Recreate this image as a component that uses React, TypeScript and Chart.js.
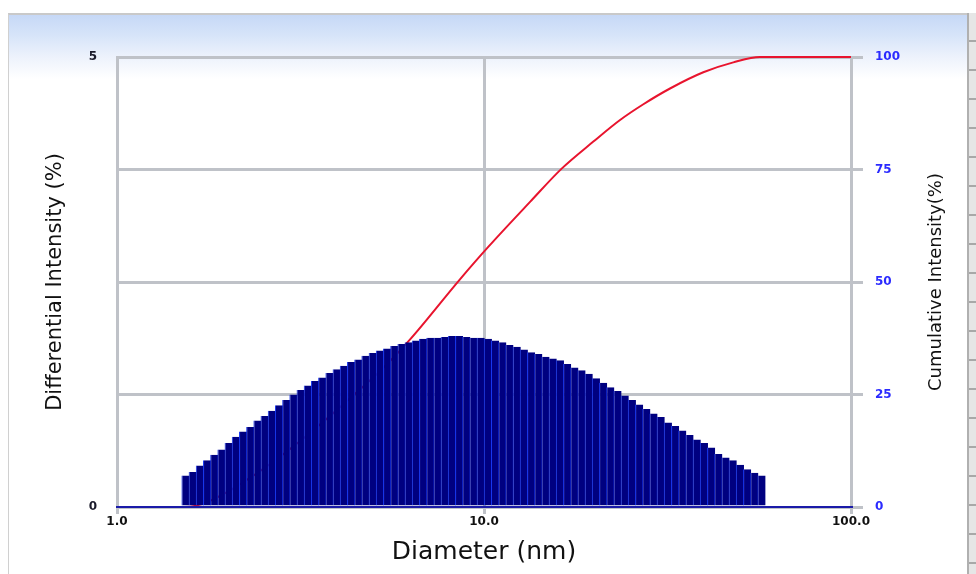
import React, { useEffect, useRef } from "react";
import { Chart, registerables } from "chart.js";

Chart.register(...registerables);

// Bin diameters (nm) of the differential distribution
const diameters = [
  1.537, 1.608, 1.682, 1.760, 1.841, 1.926, 2.015, 2.108, 2.206, 2.307,
  2.414, 2.525, 2.642, 2.764, 2.892, 3.025, 3.165, 3.311, 3.464, 3.624,
  3.793, 3.968, 4.151, 4.344, 4.545, 4.754, 4.975, 5.204, 5.445, 5.696,
  5.960, 6.234, 6.523, 6.825, 7.140, 7.470, 7.815, 8.176, 8.554, 8.950,
  9.363, 9.795, 10.247, 10.72, 11.22, 11.73, 12.28, 12.84, 13.44, 14.06,
  14.71, 15.39, 16.10, 16.85, 17.63, 18.44, 19.29, 20.18, 21.12, 22.09,
  23.11, 24.18, 25.29, 26.47, 27.69, 28.97, 30.30, 31.70, 33.17, 34.70,
  36.31, 37.99, 39.74, 41.58, 43.50, 45.51, 47.61, 49.81, 52.12, 54.53,
  57.05,
];

// Differential intensity (%)
const differential = [
  0.35, 0.39, 0.46, 0.52, 0.58, 0.64, 0.71, 0.78, 0.84, 0.89,
  0.96, 1.01, 1.07, 1.13, 1.19, 1.25, 1.30, 1.35, 1.40, 1.44,
  1.49, 1.53, 1.57, 1.61, 1.64, 1.68, 1.71, 1.74, 1.76, 1.79,
  1.81, 1.83, 1.85, 1.87, 1.88, 1.88, 1.89, 1.90, 1.90, 1.89,
  1.88, 1.88, 1.87, 1.85, 1.83, 1.80, 1.78, 1.75, 1.72, 1.70,
  1.67, 1.65, 1.63, 1.59, 1.55, 1.52, 1.48, 1.43, 1.38, 1.33,
  1.29, 1.24, 1.19, 1.14, 1.09, 1.04, 1.00, 0.94, 0.90, 0.85,
  0.80, 0.75, 0.71, 0.66, 0.59, 0.55, 0.52, 0.47, 0.42, 0.38,
  0.35,
];

// Cumulative intensity (%) curve
const cumDiameters = [1.43, 1.53, 2.07, 4.98, 6.22, 8.6, 10.27, 13.35, 16.28, 19.86, 23.48, 27.18, 32.13, 39.59, 47.79, 56.5, 100];
const cumValues = [0, 0, 4.1, 28.7, 36.8, 50.6, 57.8, 67.8, 75.2, 81.2, 86.0, 89.5, 93.0, 96.6, 98.8, 100, 100];

const xTicks = [1, 10, 100];
const leftLabels = [0, 5];
const rightTitle = "Cumulative Intensity(%)";

const SANS = "'DejaVu Sans', Verdana, sans-serif";
const TICK_FONT = { family: SANS, size: 12, weight: "bold" as const };
const GRID = "#bfc2c8";

const rightTitlePlugin = {
  id: "rightTitle",
  afterDraw(chart: any) {
    const { ctx } = chart;
    const s = chart.scales.y1;
    ctx.save();
    ctx.translate(s.right - 40, (chart.chartArea.top + chart.chartArea.bottom) / 2);
    ctx.rotate(-Math.PI / 2);
    ctx.font = `18px ${SANS}`;
    ctx.fillStyle = "#111";
    ctx.textAlign = "center";
    ctx.textBaseline = "middle";
    ctx.fillText(rightTitle, 0, 0);
    ctx.restore();
  },
};

export default function App() {
  const ref = useRef<HTMLCanvasElement | null>(null);

  useEffect(() => {
    if (!ref.current) return;
    const chart = new Chart(ref.current, {
      type: "bar",
      data: {
        datasets: [
          {
            type: "bar",
            label: "Differential",
            data: diameters.map((d, i) => ({ x: d, y: differential[i] })),
            backgroundColor: "#000080",
            borderColor: "#1838f0",
            borderWidth: { left: 1, right: 0, top: 0, bottom: 0 },
            borderSkipped: false,
            barPercentage: 1.15,
            categoryPercentage: 1,
            xAxisID: "x",
            yAxisID: "y",
            order: 0,
          } as any,
          {
            type: "line",
            label: "Cumulative",
            data: cumDiameters.map((d, i) => ({ x: d, y: cumValues[i] })),
            borderColor: "#e8142e",
            borderWidth: 2,
            pointRadius: 0,
            cubicInterpolationMode: "monotone",
            clip: false,
            xAxisID: "x",
            yAxisID: "y1",
            order: 1,
          } as any,
        ],
      },
      options: {
        animation: false,
        responsive: false,
        events: [],
        layout: { padding: { top: 57, left: 0, right: 0, bottom: 0 } },
        plugins: { legend: { display: false }, tooltip: { enabled: false } },
        scales: {
          x: {
            type: "logarithmic",
            min: 1,
            max: 100,
            offset: false,
            afterBuildTicks: (s: any) => {
              s.ticks = xTicks.map((v) => ({ value: v }));
            },
            afterFit: (s: any) => {
              s.height = 67;
            },
            grid: { color: GRID, lineWidth: 3, offset: false, tickLength: 7 },
            border: { color: "#1a1aa8", width: 2, z: 1 },
            ticks: {
              font: TICK_FONT,
              color: "#111",
              padding: 1,
              maxRotation: 0,
              autoSkip: false,
              callback: (v: any) => Number(v).toFixed(1),
            },
            title: {
              display: true,
              text: "Diameter (nm)",
              color: "#111",
              font: { family: SANS, size: 25 },
              padding: { top: 0, bottom: 7 },
            },
          },
          y: {
            position: "left",
            min: 0,
            max: 5,
            afterFit: (s: any) => {
              s.width = 117;
            },
            grid: { color: GRID, lineWidth: 3, drawTicks: false },
            border: { color: GRID, width: 3 },
            ticks: {
              stepSize: 1.25,
              font: TICK_FONT,
              color: "#1a1a2a",
              padding: 20,
              callback: (v: any) => (leftLabels.includes(Number(v)) ? String(v) : ""),
            },
            title: {
              display: true,
              text: "Differential Intensity (%)",
              color: "#111",
              font: { family: SANS, size: 21 },
              padding: { top: 43, bottom: 0 },
            },
          },
          y1: {
            position: "right",
            min: 0,
            max: 100,
            afterFit: (s: any) => {
              s.width = 125;
            },
            grid: { drawOnChartArea: false, color: GRID, lineWidth: 3, tickLength: 12 },
            border: { color: GRID, width: 3 },
            ticks: {
              stepSize: 25,
              font: TICK_FONT,
              color: "#2b2bff",
              padding: 12,
            },
          },
        },
      } as any,
      plugins: [rightTitlePlugin],
    });
    return () => chart.destroy();
  }, []);

  return (
    <div style={{ position: "absolute", left: 0, top: 0, width: 976, height: 574, background: "#fff", overflow: "hidden" }}>
      <div
        style={{
          position: "absolute",
          left: 8,
          top: 13,
          width: 959,
          height: 561,
          borderTop: "2px solid #c9c9c9",
          borderLeft: "1px solid #d0d0d0",
          background: "linear-gradient(to bottom, #c6d8f6 0px, #d6e4f9 20px, #edf2fc 42px, #ffffff 64px)",
        }}
      />
      <div
        style={{
          position: "absolute",
          left: 967,
          top: 13,
          width: 9,
          height: 561,
          borderLeft: "2px solid #b0b0b0",
          background: "repeating-linear-gradient(to bottom, #e6e6e6 0px, #e6e6e6 27px, #a8a8a8 27px, #a8a8a8 29px)",
        }}
      />
      <canvas ref={ref} width={976} height={574} style={{ position: "absolute", left: 0, top: 0 }} />
    </div>
  );
}
